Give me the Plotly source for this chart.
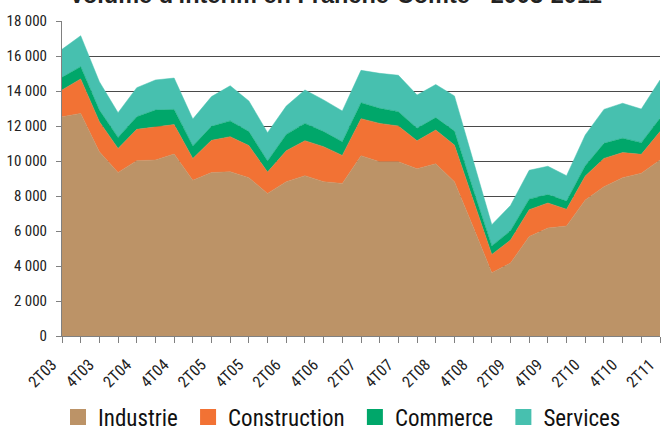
import plotly.graph_objects as go

quarters = ["2T03", "3T03", "4T03", "1T04", "2T04", "3T04", "4T04", "1T05",
            "2T05", "3T05", "4T05", "1T06", "2T06", "3T06", "4T06", "1T07",
            "2T07", "3T07", "4T07", "1T08", "2T08", "3T08", "4T08", "1T09",
            "2T09", "3T09", "4T09", "1T10", "2T10", "3T10", "4T10", "1T11",
            "2T11"]

industrie = [12530, 12720, 10530, 9350, 10020, 10060, 10400, 8900,
             9340, 9390, 9050, 8150, 8820, 9160, 8820, 8720,
             10300, 9960, 9960, 9560, 9840, 8820, 6240, 3620,
             4170, 5680, 6170, 6290, 7770, 8530, 9050, 9300,
             10060]
construction = [1530, 1970, 1720, 1370, 1790, 1900, 1680, 1250,
                1840, 2000, 1830, 1220, 1770, 2000, 2000, 1600,
                2120, 2190, 2040, 1600, 1930, 2090, 1560, 1040,
                1310, 1540, 1430, 950, 1370, 1620, 1430, 1080,
                1620]
commerce = [720, 700, 660, 630, 720, 950, 870, 710,
            800, 900, 800, 630, 930, 990, 860, 780,
            910, 860, 820, 710, 710, 800, 580, 490,
            530, 600, 480, 470, 590, 860, 820, 670,
            760]
services = [1600, 1770, 1620, 1410, 1660, 1720, 1790, 1540,
            1700, 2010, 1750, 1620, 1620, 1910, 1810, 1760,
            1850, 2000, 2080, 1900, 1890, 2010, 1660, 1210,
            1450, 1650, 1620, 1450, 1760, 1940, 2000, 1920,
            2190]

title_text = "Volume d'intérim en Franche-Comté - 2003-2011"

series = [("Industrie", industrie, "#BC9367"),
          ("Construction", construction, "#F27234"),
          ("Commerce", commerce, "#00A76A"),
          ("Services", services, "#47C0AF")]

FONT = "Liberation Sans, Arial, sans-serif"
NARROW = "Roboto Condensed, Liberation Sans, Arial, sans-serif"
x = list(range(len(quarters)))

fig = go.Figure()
for name, vals, col in series:
    fig.add_trace(go.Scatter(
        x=x, y=vals, name=name, stackgroup="one", mode="lines",
        line=dict(width=0.5, color=col), fillcolor=col, showlegend=False,
        hoverinfo="skip"))
for name, vals, col in series:
    fig.add_trace(go.Scatter(
        x=[None], y=[None], name=name + "\u00a0", mode="markers",
        marker=dict(symbol="square", size=22, color=col), showlegend=True))

ticktext = [q if i % 2 == 0 else "" for i, q in enumerate(quarters)]

W, H = 662, 430
PLOT_H = 315
fig.add_annotation(
    text="<b>" + title_text + "</b>", xref="paper", yref="paper",
    x=0.458, xanchor="center", y=1 + 26 / PLOT_H, yanchor="middle",
    showarrow=False,
    font=dict(family=FONT, size=23.5, color="#222222"))

fig.update_layout(
    width=W, height=H,
    margin=dict(l=62, r=2, t=21, b=94),
    paper_bgcolor="white", plot_bgcolor="white",
    separators=", ",
    font=dict(family=NARROW, color="#222222", size=15),
    xaxis=dict(range=[0, len(quarters) - 1], tickmode="array", tickvals=x,
               ticktext=ticktext, tickangle=-45, ticks="outside", ticklen=6,
               tickcolor="#808080", showline=True, linecolor="#808080",
               showgrid=False, zeroline=False, automargin=False,
               ticklabeloverflow="allow", ticklabelshift=-10, ticklabelstandoff=6,
               tickfont=dict(family=NARROW, size=16, color="#222222")),
    yaxis=dict(range=[0, 18000], dtick=2000, tickformat=",d", ticks="outside",
               ticklen=5, tickcolor="#808080", showline=True, linecolor="#808080",
               showgrid=True, gridcolor="#4a4a4a", gridwidth=1, zeroline=False,
               automargin=False, ticklabelstandoff=6,
               tickfont=dict(family=NARROW, size=15, color="#222222")),
    legend=dict(orientation="h", xref="container", yref="container",
                x=58 / W, xanchor="left", y=(H - 417) / H, yanchor="middle",
                traceorder="normal",
                font=dict(family=NARROW, size=23, color="#111111"),
                itemsizing="trace", tracegroupgap=0),
)

fig.write_html("out.html",
               config={"displayModeBar": False},
               post_script="document.body.style.margin='0';"
                           "document.body.style.overflow='hidden';")
